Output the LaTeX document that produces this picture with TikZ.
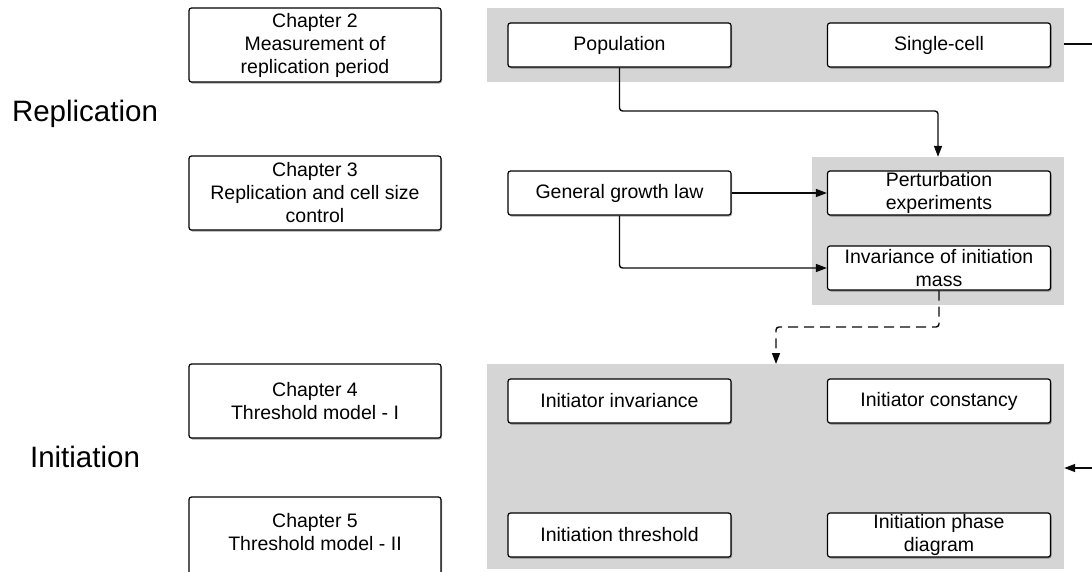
\documentclass[tikz,border=0pt]{standalone}
\usepackage{fontspec}
\setmainfont{Liberation Sans}
\usetikzlibrary{arrows.meta,shadows}
\definecolor{panelgray}{RGB}{213,213,213}
\definecolor{linegray}{RGB}{10,10,10}
\tikzset{
  box/.style={draw=black, line width=1.2pt, fill=white, rounded corners=2.5pt,
    align=center, inner sep=0pt, font=\fontsize{19.5pt}{23pt}\selectfont,
    drop shadow={shadow xshift=1pt, shadow yshift=-1.5pt, opacity=0.35, fill=black}},
  chapbox/.style={box, minimum width=252pt, minimum height=74pt},
  inbox/.style={box, minimum width=223pt, minimum height=44pt},
  panel/.style={fill=panelgray, draw=none, inner sep=0pt},
  biglabel/.style={font=\fontsize{29.5pt}{34pt}\selectfont, inner sep=0pt},
  conn/.style={draw=linegray, line width=1.4pt, rounded corners=3pt},
  arr/.style={conn, -{Triangle[length=11pt, width=8pt]}},
  dashconn/.style={arr, dash pattern=on 10pt off 6pt}
}
\begin{document}
\begin{tikzpicture}[x=1pt, y=-1pt]
\useasboundingbox (0,0) rectangle (1092,571);
% panels
\node[panel, minimum width=577pt, minimum height=74pt] (p1) at (775.5,45) {};
\node[panel, minimum width=252pt, minimum height=148pt] (p2) at (938,231) {};
\node[panel, minimum width=577pt, minimum height=205pt] (p3) at (775.5,466.5) {};
% side labels
\node[biglabel] (lrep) at (85,114) {Replication};
\node[biglabel] (linit) at (85,457) {Initiation};
% chapter boxes
\node[chapbox] (ch2) at (315,45) {Chapter 2\\Measurement of\\replication period};
\node[chapbox] (ch3) at (315,193) {Chapter 3\\Replication and cell size\\control};
\node[chapbox] (ch4) at (315,401) {Chapter 4\\Threshold model - I};
\node[chapbox, minimum height=86pt] (ch5) at (315,540)
  {\raisebox{0pt}[\height][\dimexpr\depth+12pt\relax]{\begin{tabular}{@{}c@{}}Chapter 5\\Threshold model - II\end{tabular}}};
% inner boxes
\node[inbox] (pop) at (619.5,45) {Population};
\node[inbox] (sc) at (939,45) {Single-cell};
\node[inbox] (ggl) at (619.5,193) {General growth law};
\node[inbox] (pert) at (939,193) {Perturbation\\experiments};
\node[inbox] (inv) at (939,268) {Invariance of initiation\\mass};
\node[inbox] (iinv) at (619.5,401) {Initiator invariance};
\node[inbox] (icon) at (939,401) {Initiator constancy};
\node[inbox] (ithr) at (619.5,535) {Initiation threshold};
\node[inbox] (ipd) at (939,535) {Initiation phase\\diagram};
% free ends
\coordinate (outtop) at (1092,44);
\coordinate (inbot) at (1092,468);
% connectors
\draw[arr] (pop.south) -- (pop.south |- 0,111) -- (p2.north |- 0,111) -- (p2.north);
\draw[arr] (ggl.east) -- (pert.west);
\draw[arr] (ggl.south) -- (ggl.south |- inv.west) -- (inv.west);
\draw[dashconn] (inv.south) -- (inv.south |- 0,327) -- (776,327) -- (776,364);
\draw[conn] (p1.east |- outtop) -- (outtop);
\draw[arr] (inbot) -- (p3.east |- inbot);
\end{tikzpicture}
\end{document}
